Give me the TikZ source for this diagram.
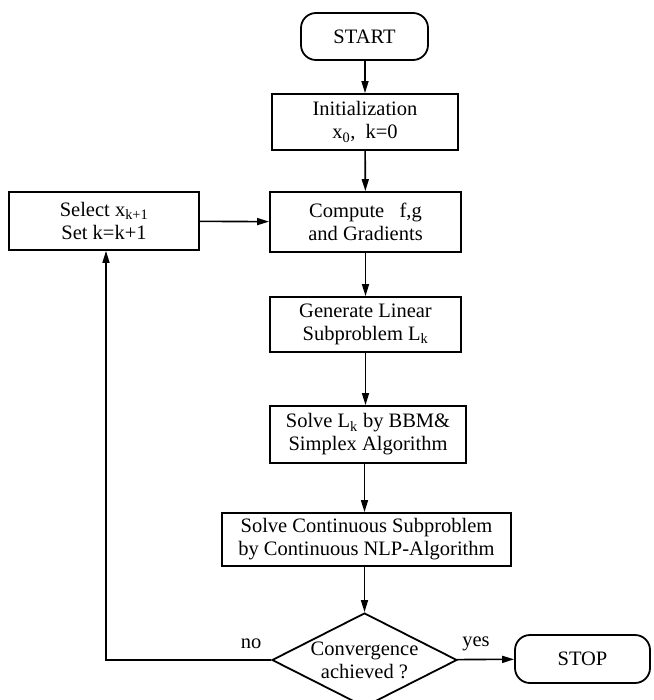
\documentclass[tikz,border=0pt]{standalone}
\usepackage{fontspec}
\setmainfont{Liberation Serif}
\usetikzlibrary{arrows.meta,shapes.geometric}
\begin{document}
\begin{tikzpicture}[x=1pt,y=-1pt,
  every node/.style={font=\fontsize{20.5}{23}\selectfont},
  box/.style={draw,line width=1.8pt,rectangle,align=center,inner sep=0pt},
  term/.style={draw,line width=1.8pt,rectangle,rounded corners=15pt,align=center,inner sep=0pt},
  dec/.style={draw,line width=1.8pt,diamond,aspect=2,align=center,inner sep=0pt,minimum width=185pt,minimum height=94pt},
  arr/.style={line width=1.6pt,-{Triangle[length=12pt,width=7pt]}},
  lab/.style={inner sep=0pt}]
\path[use as bounding box] (0,0) rectangle (653,700);
\node[term,minimum width=127pt,minimum height=47pt] (start) at (364.5,36.5) {START};
\node[box,minimum width=186pt,minimum height=56pt] (init) at (365,122) {Initialization\\x\textsubscript{0},\ \ k=0};
\node[box,minimum width=191pt,minimum height=60pt] (comp) at (365.5,222) {Compute\ \ \ f,g\\and Gradients};
\node[box,minimum width=190pt,minimum height=58pt] (sel) at (104,221) {Select x\textsubscript{k+1}\\Set k=k+1};
\node[box,minimum width=191pt,minimum height=55pt] (gen) at (365.5,324.5) {Generate Linear\\Subproblem L\textsubscript{k}};
\node[box,minimum width=196pt,minimum height=57pt] (solve) at (368,434.5) {Solve L\textsubscript{k} by BBM\&\\Simplex Algorithm};
\node[box,minimum width=289pt,minimum height=53pt] (cont) at (366.5,539.5) {Solve Continuous Subproblem\\by Continuous NLP-Algorithm};
\node[dec] (conv) at (364.5,660) {Convergence\\achieved ?};
\node[term,minimum width=135pt,minimum height=48pt] (stop) at (582.5,659) {STOP};
\node[lab] (no) at (251,644) {no};
\node[lab] (yes) at (476,644) {yes};
\draw[arr] (start.south -| init) -- (init);
\draw[arr] (init) -- (comp);
\draw[arr] (sel) -- (comp);
\draw[arr] (comp.south -| gen) -- (gen);
\draw[arr] (gen.south) -- (gen.south |- solve.north);
\draw[arr] (solve.south -| conv) -- (conv |- cont.north);
\draw[arr] (cont.south -| conv) -- (conv);
\draw[arr] (conv) -- (stop);
\draw[arr] (conv.west) -| ([xshift=2pt]sel.south);
\end{tikzpicture}
\end{document}
